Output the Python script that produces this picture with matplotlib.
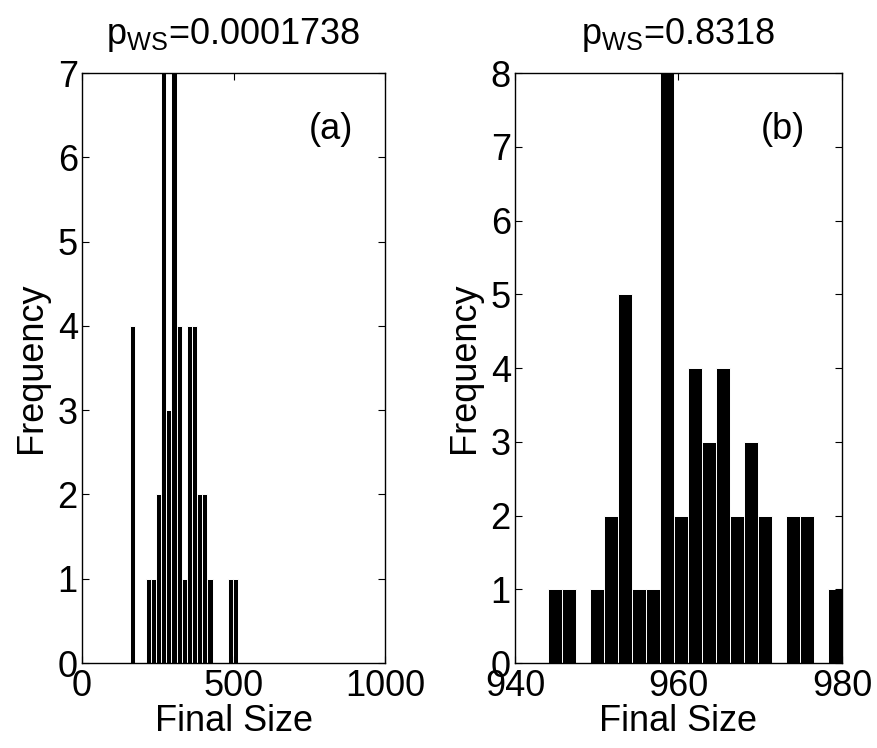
import matplotlib
matplotlib.use('Agg')
import matplotlib.pyplot as plt

plt.rcParams['font.family'] = ['Liberation Sans', 'DejaVu Sans']
plt.rcParams['mathtext.fontset'] = 'custom'
plt.rcParams['mathtext.rm'] = 'Liberation Sans'
plt.rcParams['mathtext.it'] = 'Liberation Sans:italic'

# histogram (a): bin centres and counts
centers_a = [167.5, 218.5, 235.5, 252.5, 269.5, 286.5, 303.5, 320.5, 337.5,
             354.5, 371.5, 388.5, 405.5, 422.5, 490.5, 507.5]
counts_a = [4, 1, 1, 2, 7, 3, 7, 4, 1, 4, 4, 2, 2, 1, 1, 1]
title_a = r'p$_{\mathrm{WS}}$=0.0001738'

# histogram (b)
centers_b = [944.86, 946.57, 950.0, 951.71, 953.43, 955.14, 956.86, 958.57,
             960.29, 962.0, 963.71, 965.43, 967.14, 968.86, 970.57, 974.0,
             975.71, 979.14]
counts_b = [1, 1, 1, 2, 5, 1, 1, 8, 2, 4, 3, 4, 2, 3, 2, 2, 2, 1]
title_b = r'p$_{\mathrm{WS}}$=0.8318'

fs = 26

fig = plt.figure(figsize=(8.77, 7.48), dpi=100)
ax1 = fig.add_axes([0.0935, 0.1136, 0.3455, 0.7888])
ax2 = fig.add_axes([0.5872, 0.1136, 0.3729, 0.7888])

def style(ax, title, label, xlim, xticks, ymax):
    ax.set_xlim(*xlim)
    ax.set_ylim(0, ymax)
    ax.set_xticks(xticks)
    ax.set_yticks(range(ymax + 1))
    ax.tick_params(direction='in', length=5, width=0.8, top=True, right=True,
                   labelsize=fs)
    ax.tick_params(axis='x', pad=4)
    ax.tick_params(axis='y', pad=3)
    for s in ax.spines.values():
        s.set_linewidth(1.0)
    ax.set_xlabel('Final Size', fontsize=fs, labelpad=0)
    ax.set_ylabel('Frequency', fontsize=fs, labelpad=6)
    ax.set_title(title, fontsize=fs, pad=21)
    ax.text(0.82, 0.905, label, transform=ax.transAxes, fontsize=fs,
            ha='center', va='center')

ax1.bar(centers_a, counts_a, width=17, color='black', edgecolor='white', linewidth=0.7)
style(ax1, title_a, '(a)', (0, 1000), [0, 500, 1000], 7)

ax2.bar(centers_b, counts_b, width=1.714, color='black', edgecolor='white', linewidth=0.7)
style(ax2, title_b, '(b)', (940, 980), [940, 960, 980], 8)

fig.savefig('out.png', dpi=100)
